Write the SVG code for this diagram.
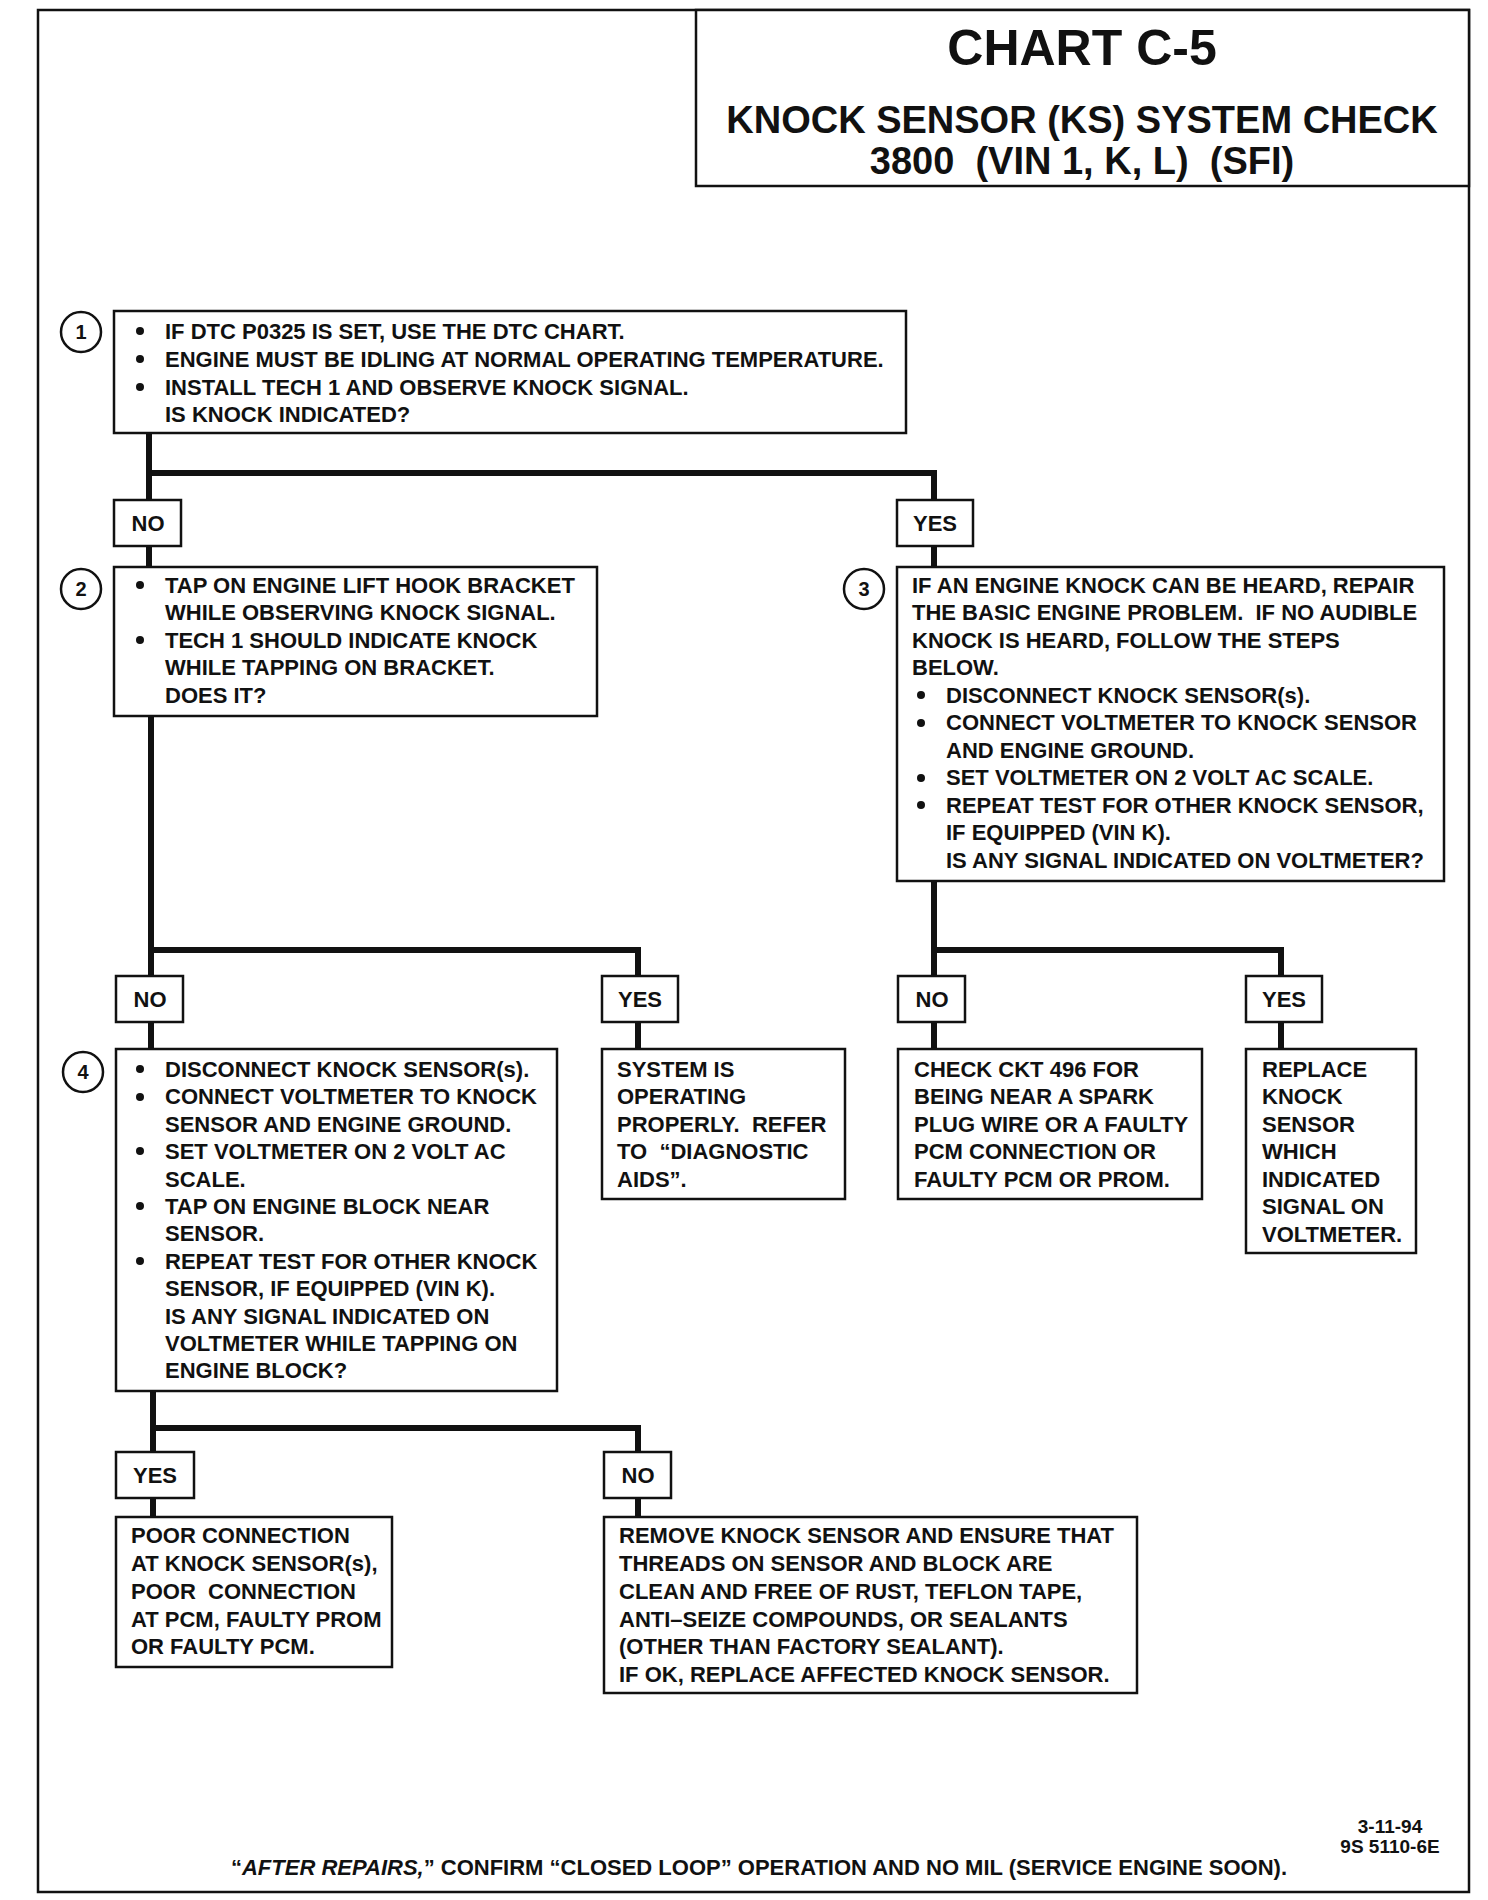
<svg xmlns="http://www.w3.org/2000/svg" width="1488" height="1900" viewBox="0 0 1488 1900">
<style>
text { font-family: "Liberation Sans", Arial, sans-serif; font-weight: bold; fill: #111; white-space: pre; }
.t { font-size: 22px; }
.lbl { font-size: 22px; text-anchor: middle; }
.num { font-size: 20px; text-anchor: middle; }
.box { fill: #fff; stroke: #111; stroke-width: 2.5; }
.circ { fill: #fff; stroke: #111; stroke-width: 2.5; }
.conn { fill: none; stroke: #111; stroke-width: 6; stroke-linejoin: miter; }
.dot { fill: #111; }
</style>
<rect x="0" y="0" width="1488" height="1900" fill="#fff"/>
<rect id="frame" x="38" y="10" width="1431" height="1882" fill="none" stroke="#111" stroke-width="2.5"/>

<g id="title">
<rect x="696" y="10" width="773" height="176" class="box"/>
<text x="1082" y="65" style="font-size:50px" text-anchor="middle">CHART C-5</text>
<text x="1082" y="133" style="font-size:38px" text-anchor="middle">KNOCK SENSOR (KS) SYSTEM CHECK</text>
<text x="1082" y="174" style="font-size:38px" text-anchor="middle">3800  (VIN 1, K, L)  (SFI)</text>
</g>

<g id="connectors">
<path class="conn" d="M149,433 V567 M149,473 H934 V567"/>
<path class="conn" d="M151,716 V1049 M151,950 H638 V1049"/>
<path class="conn" d="M934,881 V1049 M934,950 H1281 V1049"/>
<path class="conn" d="M153,1391 V1517 M153,1428 H638 V1517"/>
</g>

<g id="node1">
<circle cx="81" cy="332" r="20" class="circ"/>
<text x="81" y="339" class="num">1</text>
<rect x="114" y="311" width="792" height="122" class="box"/>
<circle cx="140" cy="331" r="4" class="dot"/>
<circle cx="140" cy="359" r="4" class="dot"/>
<circle cx="140" cy="387" r="4" class="dot"/>
<text class="t" x="165" y="339">IF DTC P0325 IS SET, USE THE DTC CHART.</text>
<text class="t" x="165" y="367">ENGINE MUST BE IDLING AT NORMAL OPERATING TEMPERATURE.</text>
<text class="t" x="165" y="395">INSTALL TECH 1 AND OBSERVE KNOCK SIGNAL.</text>
<text class="t" x="165" y="422">IS KNOCK INDICATED?</text>
</g>

<g id="label-no-1">
<rect x="114" y="500" width="67" height="46" class="box"/>
<text x="148" y="531" class="lbl">NO</text>
</g>
<g id="label-yes-1">
<rect x="897" y="500" width="76" height="46" class="box"/>
<text x="935" y="531" class="lbl">YES</text>
</g>

<g id="node2">
<circle cx="81" cy="589" r="20" class="circ"/>
<text x="81" y="596" class="num">2</text>
<rect x="114" y="567" width="483" height="149" class="box"/>
<circle cx="140" cy="585" r="4" class="dot"/>
<circle cx="140" cy="640" r="4" class="dot"/>
<text class="t" x="165" y="593">TAP ON ENGINE LIFT HOOK BRACKET</text>
<text class="t" x="165" y="620">WHILE OBSERVING KNOCK SIGNAL.</text>
<text class="t" x="165" y="648">TECH 1 SHOULD INDICATE KNOCK</text>
<text class="t" x="165" y="675">WHILE TAPPING ON BRACKET.</text>
<text class="t" x="165" y="703">DOES IT?</text>
</g>

<g id="node3">
<circle cx="864" cy="589" r="20" class="circ"/>
<text x="864" y="596" class="num">3</text>
<rect x="897" y="567" width="547" height="314" class="box"/>
<text class="t" x="912" y="593">IF AN ENGINE KNOCK CAN BE HEARD, REPAIR</text>
<text class="t" x="912" y="620">THE BASIC ENGINE PROBLEM.  IF NO AUDIBLE</text>
<text class="t" x="912" y="648">KNOCK IS HEARD, FOLLOW THE STEPS</text>
<text class="t" x="912" y="675">BELOW.</text>
<circle cx="921" cy="695" r="4" class="dot"/>
<circle cx="921" cy="723" r="4" class="dot"/>
<circle cx="921" cy="778" r="4" class="dot"/>
<circle cx="921" cy="805" r="4" class="dot"/>
<text class="t" x="946" y="703">DISCONNECT KNOCK SENSOR(s).</text>
<text class="t" x="946" y="730">CONNECT VOLTMETER TO KNOCK SENSOR</text>
<text class="t" x="946" y="758">AND ENGINE GROUND.</text>
<text class="t" x="946" y="785">SET VOLTMETER ON 2 VOLT AC SCALE.</text>
<text class="t" x="946" y="813">REPEAT TEST FOR OTHER KNOCK SENSOR,</text>
<text class="t" x="946" y="840">IF EQUIPPED (VIN K).</text>
<text class="t" x="946" y="868">IS ANY SIGNAL INDICATED ON VOLTMETER?</text>
</g>

<g id="label-no-2">
<rect x="116" y="976" width="67" height="46" class="box"/>
<text x="150" y="1007" class="lbl">NO</text>
</g>
<g id="label-yes-2">
<rect x="602" y="976" width="76" height="46" class="box"/>
<text x="640" y="1007" class="lbl">YES</text>
</g>
<g id="label-no-3">
<rect x="898" y="976" width="67" height="46" class="box"/>
<text x="932" y="1007" class="lbl">NO</text>
</g>
<g id="label-yes-3">
<rect x="1246" y="976" width="76" height="46" class="box"/>
<text x="1284" y="1007" class="lbl">YES</text>
</g>

<g id="node4">
<circle cx="83" cy="1072" r="20" class="circ"/>
<text x="83" y="1079" class="num">4</text>
<rect x="116" y="1049" width="441" height="342" class="box"/>
<circle cx="140" cy="1069" r="4" class="dot"/>
<circle cx="140" cy="1097" r="4" class="dot"/>
<circle cx="140" cy="1151" r="4" class="dot"/>
<circle cx="140" cy="1206" r="4" class="dot"/>
<circle cx="140" cy="1261" r="4" class="dot"/>
<text class="t" x="165" y="1077">DISCONNECT KNOCK SENSOR(s).</text>
<text class="t" x="165" y="1104">CONNECT VOLTMETER TO KNOCK</text>
<text class="t" x="165" y="1132">SENSOR AND ENGINE GROUND.</text>
<text class="t" x="165" y="1159">SET VOLTMETER ON 2 VOLT AC</text>
<text class="t" x="165" y="1187">SCALE.</text>
<text class="t" x="165" y="1214">TAP ON ENGINE BLOCK NEAR</text>
<text class="t" x="165" y="1241">SENSOR.</text>
<text class="t" x="165" y="1269">REPEAT TEST FOR OTHER KNOCK</text>
<text class="t" x="165" y="1296">SENSOR, IF EQUIPPED (VIN K).</text>
<text class="t" x="165" y="1324">IS ANY SIGNAL INDICATED ON</text>
<text class="t" x="165" y="1351">VOLTMETER WHILE TAPPING ON</text>
<text class="t" x="165" y="1378">ENGINE BLOCK?</text>
</g>

<g id="node-system-ok">
<rect x="602" y="1049" width="243" height="150" class="box"/>
<text class="t" x="617" y="1077">SYSTEM IS</text>
<text class="t" x="617" y="1104">OPERATING</text>
<text class="t" x="617" y="1132">PROPERLY.  REFER</text>
<text class="t" x="617" y="1159">TO  “DIAGNOSTIC</text>
<text class="t" x="617" y="1187">AIDS”.</text>
</g>

<g id="node-check-ckt">
<rect x="898" y="1049" width="304" height="150" class="box"/>
<text class="t" x="914" y="1077">CHECK CKT 496 FOR</text>
<text class="t" x="914" y="1104">BEING NEAR A SPARK</text>
<text class="t" x="914" y="1132">PLUG WIRE OR A FAULTY</text>
<text class="t" x="914" y="1159">PCM CONNECTION OR</text>
<text class="t" x="914" y="1187">FAULTY PCM OR PROM.</text>
</g>

<g id="node-replace">
<rect x="1246" y="1049" width="170" height="204" class="box"/>
<text class="t" x="1262" y="1077">REPLACE</text>
<text class="t" x="1262" y="1104">KNOCK</text>
<text class="t" x="1262" y="1132">SENSOR</text>
<text class="t" x="1262" y="1159">WHICH</text>
<text class="t" x="1262" y="1187">INDICATED</text>
<text class="t" x="1262" y="1214">SIGNAL ON</text>
<text class="t" x="1262" y="1242">VOLTMETER.</text>
</g>

<g id="label-yes-4">
<rect x="116" y="1452" width="78" height="46" class="box"/>
<text x="155" y="1483" class="lbl">YES</text>
</g>
<g id="label-no-4">
<rect x="604" y="1452" width="67" height="46" class="box"/>
<text x="638" y="1483" class="lbl">NO</text>
</g>

<g id="node-poor">
<rect x="116" y="1517" width="276" height="150" class="box"/>
<text class="t" x="131" y="1543">POOR CONNECTION</text>
<text class="t" x="131" y="1571">AT KNOCK SENSOR(s),</text>
<text class="t" x="131" y="1599">POOR  CONNECTION</text>
<text class="t" x="131" y="1627">AT PCM, FAULTY PROM</text>
<text class="t" x="131" y="1654">OR FAULTY PCM.</text>
</g>

<g id="node-remove">
<rect x="604" y="1517" width="533" height="176" class="box"/>
<text class="t" x="619" y="1543">REMOVE KNOCK SENSOR AND ENSURE THAT</text>
<text class="t" x="619" y="1571">THREADS ON SENSOR AND BLOCK ARE</text>
<text class="t" x="619" y="1599">CLEAN AND FREE OF RUST, TEFLON TAPE,</text>
<text class="t" x="619" y="1627">ANTI–SEIZE COMPOUNDS, OR SEALANTS</text>
<text class="t" x="619" y="1654">(OTHER THAN FACTORY SEALANT).</text>
<text class="t" x="619" y="1682">IF OK, REPLACE AFFECTED KNOCK SENSOR.</text>
</g>

<g id="footer">
<text x="1390" y="1833" style="font-size:19px" text-anchor="middle">3-11-94</text>
<text x="1390" y="1853" style="font-size:19px" text-anchor="middle">9S 5110-6E</text>
<text class="t" x="759" y="1875" text-anchor="middle">“<tspan font-style="italic">AFTER REPAIRS,</tspan>” CONFIRM “CLOSED LOOP” OPERATION AND NO MIL (SERVICE ENGINE SOON).</text>
</g>
</svg>
